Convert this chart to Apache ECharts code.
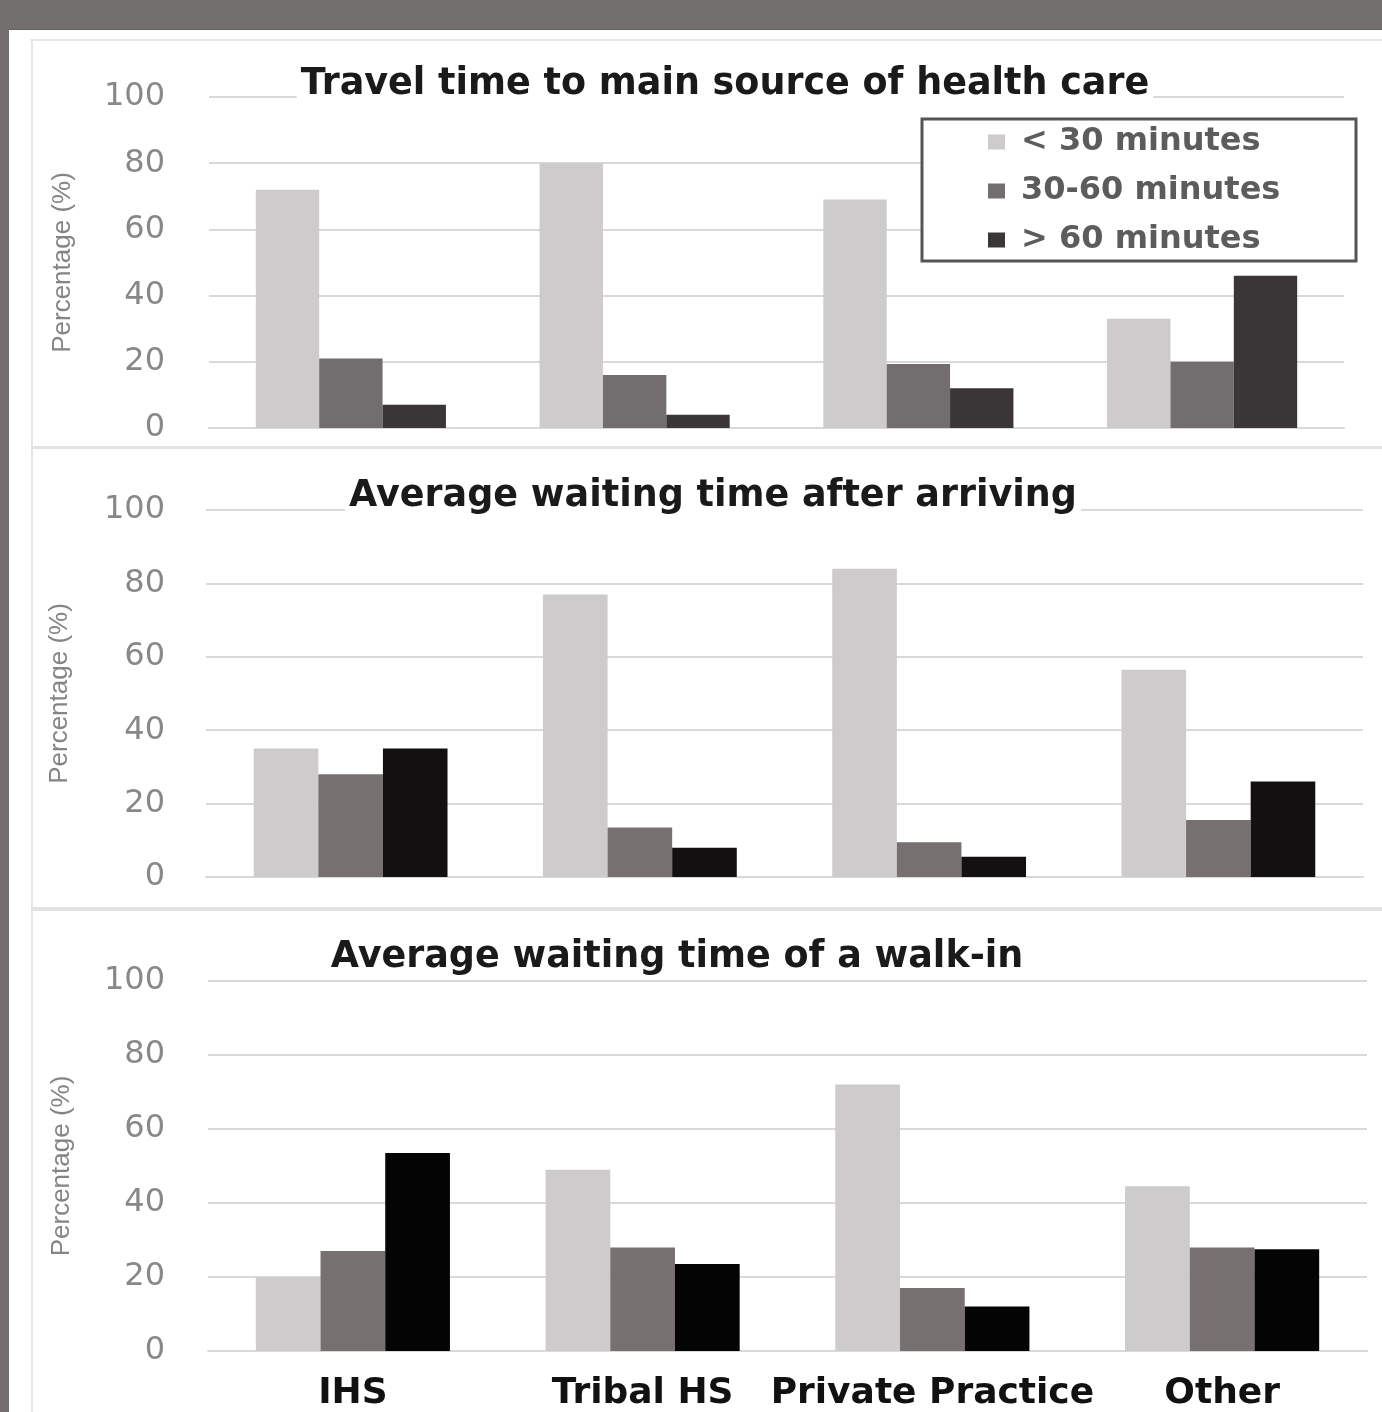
<!DOCTYPE html>
<html>
<head>
<meta charset="utf-8">
<script src="https://cdn.jsdelivr.net/npm/echarts@6/dist/echarts.min.js"></script>
<style>
html,body{margin:0;padding:0;background:#fff;}
#chart{width:1382px;height:1412px;}
</style>
</head>
<body>
<div id="chart"></div>
<script>
// ---- data ----
const categories = ['IHS', 'Tribal HS', 'Private Practice', 'Other'];
const seriesNames = ['< 30 minutes', '30-60 minutes', '> 60 minutes'];
const panelTitles = ['Travel time to main source of health care', 'Average waiting time after arriving', 'Average waiting time of a walk-in'];
const yTicks = [0, 20, 40, 60, 80, 100];
const yAxisName = 'Percentage (%)';

const travelLt30 = [72, 80, 69, 33];
const travel30to60 = [21, 16, 19.3, 20];
const travelGt60 = [7, 4, 12, 46];

const arrivingLt30 = [35, 77, 84, 56.5];
const arriving30to60 = [28, 13.5, 9.5, 15.5];
const arrivingGt60 = [35, 8, 5.5, 26];

const walkinLt30 = [20, 49, 72, 44.5];
const walkin30to60 = [27, 28, 17, 28];
const walkinGt60 = [53.5, 23.5, 12, 27.5];

const panels = [
  [travelLt30, travel30to60, travelGt60],
  [arrivingLt30, arriving30to60, arrivingGt60],
  [walkinLt30, walkin30to60, walkinGt60]
];

// ---- styles / layout ----
const grids = [
  {left: 209, top: 97, width: 1135, height: 331},
  {left: 206, top: 510, width: 1157, height: 367},
  {left: 208, top: 981, width: 1159, height: 371}
];
const labelMargins = [44, 41, 43];
const titleCenters = [[721, 67], [709, 479], [673, 940]];
const colorSets = [
  ['#cdcbcc', '#726d6e', '#3a3637'],
  ['#cdcbcc', '#767071', '#121010'],
  ['#cdcbcc', '#767071', '#050404']
];
const gridColor = '#d9d9d9';

const chart = echarts.init(document.getElementById('chart'), null, {renderer: 'canvas'});

const option = {
  backgroundColor: '#ffffff',
  animation: false,
  title: panelTitles.map((t, i) => ({
    text: t,
    left: titleCenters[i][0],
    top: titleCenters[i][1],
    textAlign: 'center',
    padding: [0, 4],
    backgroundColor: '#ffffff',
    textStyle: {fontFamily: 'DejaVu Sans', fontWeight: 'bold', fontSize: 36.5, color: '#1a1a1a', lineHeight: 36}
  })),
  legend: {
    data: seriesNames,
    orient: 'vertical',
    left: 988,
    top: 126,
    padding: 0,
    itemWidth: 17,
    itemHeight: 15,
    itemGap: 17,
    icon: 'rect',
    z: 10,
    textStyle: {fontFamily: 'DejaVu Sans', fontWeight: 'bold', fontSize: 32, lineHeight: 31, color: '#5c5c5c', padding: [0, 0, 0, 11]}
  },
  grid: grids.map(g => Object.assign({containLabel: false}, g)),
  xAxis: grids.map((g, i) => ({
    type: 'category',
    gridIndex: i,
    data: categories,
    axisLine: {show: true, lineStyle: {color: gridColor, width: 2}},
    axisTick: {show: false},
    axisLabel: {
      show: i === 2,
      margin: 25,
      interval: 0,
      fontFamily: 'DejaVu Sans', fontWeight: 'bold', fontSize: 36, color: '#111111'
    }
  })),
  yAxis: grids.map((g, i) => ({
    type: 'value',
    gridIndex: i,
    min: yTicks[0],
    max: yTicks[yTicks.length - 1],
    interval: 20,
    name: yAxisName,
    nameLocation: 'middle',
    nameGap: 133,
    nameTextStyle: {fontFamily: 'Liberation Sans', fontSize: 26, color: '#858585'},
    axisLine: {show: false},
    axisTick: {show: false},
    splitLine: {show: true, lineStyle: {color: gridColor, width: 2}},
    axisLabel: {margin: labelMargins[i], fontFamily: 'DejaVu Sans', fontSize: 32, color: '#888888'}
  })),
  series: [],
  graphic: [
    {type: 'rect', shape: {x: 0, y: 0, width: 1382, height: 29}, style: {fill: '#736f6e'}, z: 20},
    {type: 'rect', shape: {x: 0, y: 0, width: 9, height: 1412}, style: {fill: '#736f6e'}, z: 20},
    {type: 'rect', shape: {x: 9, y: 29, width: 1373, height: 1}, style: {fill: '#5d6170'}, z: 20},
    {type: 'rect', shape: {x: 30, y: 39, width: 1352, height: 2}, style: {fill: '#e6e6e6'}, z: 0},
    {type: 'rect', shape: {x: 31, y: 39, width: 2, height: 1373}, style: {fill: '#e6e6e6'}, z: 0},
    {type: 'rect', shape: {x: 31, y: 446, width: 1351, height: 3}, style: {fill: '#e3e3e3'}, z: 0},
    {type: 'rect', shape: {x: 31, y: 907, width: 1351, height: 4}, style: {fill: '#e3e3e3'}, z: 0},
    {type: 'rect', shape: {x: 922, y: 119, width: 434, height: 142}, style: {fill: '#ffffff', stroke: '#555555', lineWidth: 3}, z: 5}
  ]
};

panels.forEach((vals, p) => {
  vals.forEach((arr, s) => {
    option.series.push({
      type: 'bar',
      name: seriesNames[s],
      xAxisIndex: p,
      yAxisIndex: p,
      data: arr,
      barGap: '0%',
      barCategoryGap: '33%',
      itemStyle: {color: colorSets[p][s]},
      emphasis: {disabled: true}
    });
  });
});

chart.setOption(option);
</script>
</body>
</html>
